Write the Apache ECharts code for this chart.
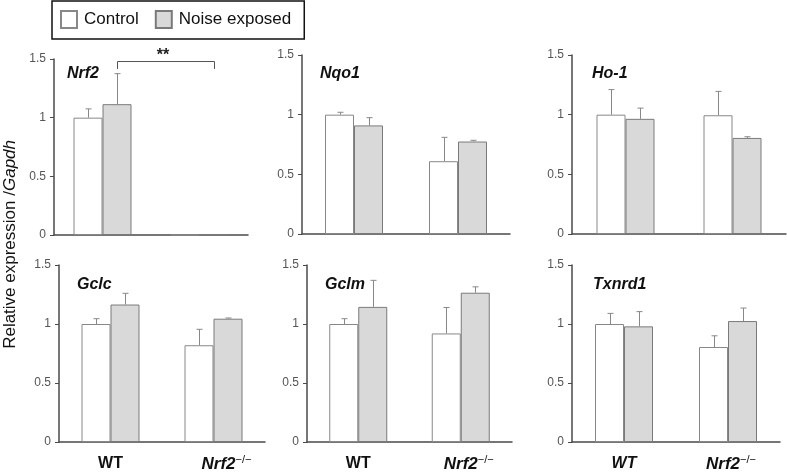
<!DOCTYPE html>
<html><head><meta charset="utf-8">
<script src="https://cdn.jsdelivr.net/npm/echarts@6/dist/echarts.min.js"></script>
<style>html,body{margin:0;padding:0;background:#fff}#c{width:787px;height:473px}</style>
</head><body><div id="c"></div>
<script>
// ---- data ----
const categories = ['WT', 'Nrf2'];
const genes = ['Nrf2', 'Nqo1', 'Ho-1', 'Gclc', 'Gclm', 'Txnrd1'];
const yTicks = [0, 0.5, 1, 1.5];

const nrf2Control = [1.00, 0.00], nrf2ControlErr = [0.075, 0.00];
const nrf2Noise = [1.115, 0.00], nrf2NoiseErr = [0.26, 0.00];
const nqo1Control = [1.00, 0.61], nqo1ControlErr = [0.02, 0.20];
const nqo1Noise = [0.91, 0.775], nqo1NoiseErr = [0.065, 0.01];
const ho1Control = [1.00, 0.995], ho1ControlErr = [0.21, 0.20];
const ho1Noise = [0.965, 0.805], ho1NoiseErr = [0.09, 0.01];
const gclcControl = [1.00, 0.82], gclcControlErr = [0.045, 0.135];
const gclcNoise = [1.165, 1.045], gclcNoiseErr = [0.095, 0.006];
const gclmControl = [1.00, 0.92], gclmControlErr = [0.045, 0.22];
const gclmNoise = [1.145, 1.265], gclmNoiseErr = [0.225, 0.05];
const txnrd1Control = [1.00, 0.805], txnrd1ControlErr = [0.09, 0.095];
const txnrd1Noise = [0.98, 1.025], txnrd1NoiseErr = [0.125, 0.11];

const significance = '**';
const bracketLevel = 1.483, bracketFoot = 1.415;

const controls = [nrf2Control, nqo1Control, ho1Control, gclcControl, gclmControl, txnrd1Control];
const controlErrs = [nrf2ControlErr, nqo1ControlErr, ho1ControlErr, gclcControlErr, gclmControlErr, txnrd1ControlErr];
const noises = [nrf2Noise, nqo1Noise, ho1Noise, gclcNoise, gclmNoise, txnrd1Noise];
const noiseErrs = [nrf2NoiseErr, nqo1NoiseErr, ho1NoiseErr, gclcNoiseErr, gclmNoiseErr, txnrd1NoiseErr];

// ---- layout ----
const grids = [
  {left: 54, top: 59, width: 194, height: 176},
  {left: 302, top: 55, width: 208, height: 179},
  {left: 572, top: 55, width: 214, height: 179},
  {left: 59, top: 265, width: 206, height: 181},
  {left: 307, top: 265, width: 205, height: 182},
  {left: 572, top: 265, width: 208, height: 180}
];
const titlePos = [[62, 61], [315, 61], [587, 61], [72, 272], [320, 272], [588, 272]];
const koLabelShift = [0, 0, 0, 26, 16, 6];
const BW = 29;
const AXIS = '#4a4a4a';

const chart = echarts.init(document.getElementById('c'), null, {renderer: 'canvas'});

const xAxes = [], yAxes = [], series = [], titles = [];
grids.forEach((g, i) => {
  const bottomRow = i >= 3;
  const wtItalic = i === 5;
  xAxes.push({
    type: 'category', gridIndex: i, data: categories,
    axisLine: {lineStyle: {color: AXIS, width: 1.5}},
    axisTick: {show: false},
    axisLabel: {
      show: bottomRow, margin: 12,
      formatter: v => v === 'WT' ? (wtItalic ? '{wi|WT}' : '{w|WT}') : '{n|Nrf2}{s|−/−}',
      rich: {
        w: {fontFamily: 'Liberation Sans', fontWeight: 'bold', fontSize: 16, color: '#111', lineHeight: 20},
        wi: {fontFamily: 'Liberation Sans', fontWeight: 'bold', fontStyle: 'italic', fontSize: 16, color: '#111', lineHeight: 20},
        n: {fontFamily: 'Liberation Sans', fontWeight: 'bold', fontStyle: 'italic', fontSize: 17, color: '#111', lineHeight: 20, padding: [0, 0, 0, koLabelShift[i]]},
        s: {fontFamily: 'Liberation Sans', fontSize: 11, color: '#111', verticalAlign: 'top', lineHeight: 20, padding: [0, 0, 8, 0]}
      }
    }
  });
  yAxes.push({
    type: 'value', gridIndex: i, min: 0, max: 1.5, interval: 0.5,
    axisLine: {show: true, lineStyle: {color: AXIS, width: 1.5}},
    axisTick: {show: true, length: 4, lineStyle: {color: AXIS}},
    splitLine: {show: false},
    axisLabel: {
      color: '#555', fontFamily: 'Liberation Sans', fontSize: 12, margin: 8,
      formatter: v => yTicks.includes(v) ? String(v) : ''
    }
  });
  series.push({
    name: 'Control', type: 'bar', xAxisIndex: i, yAxisIndex: i, data: controls[i],
    barWidth: BW, barGap: '0%',
    itemStyle: {color: '#ffffff', borderColor: '#888', borderWidth: 1}
  });
  series.push({
    name: 'Noise exposed', type: 'bar', xAxisIndex: i, yAxisIndex: i, data: noises[i],
    barWidth: BW, barGap: '0%',
    itemStyle: {color: '#d9d9d9', borderColor: '#7a7a7a', borderWidth: 1}
  });
  [[controls[i], controlErrs[i], -BW / 2], [noises[i], noiseErrs[i], BW / 2]].forEach(([m, e, off]) => {
    series.push({
      type: 'custom', xAxisIndex: i, yAxisIndex: i, silent: true, z: 5,
      data: m.map((v, k) => [k, v, v + e[k]]).filter(d => d[2] > d[1] || d[1] > 0),
      renderItem: (params, api) => {
        const b = api.coord([api.value(0), api.value(1)]);
        const t = api.coord([api.value(0), api.value(2)]);
        const x = Math.round(b[0] + off) + 0.5;
        const st = {stroke: '#888', lineWidth: 1};
        return {type: 'group', children: [
          {type: 'line', shape: {x1: x, y1: b[1], x2: x, y2: t[1]}, style: st},
          {type: 'line', shape: {x1: x - 3, y1: t[1], x2: x + 3, y2: t[1]}, style: st}
        ]};
      }
    });
  });
  titles.push({
    text: genes[i], left: titlePos[i][0], top: titlePos[i][1],
    textStyle: {fontFamily: 'Liberation Sans', fontWeight: 'bold', fontStyle: 'italic', fontSize: 16, color: '#111'}
  });
});

// significance bracket on Nrf2 panel, between WT noise and KO noise
series.push({
  type: 'custom', xAxisIndex: 0, yAxisIndex: 0, silent: true, z: 6,
  data: [[0, 1]],
  renderItem: (params, api) => {
    const a = api.coord([0, bracketLevel]);
    const b = api.coord([1, bracketLevel]);
    const f = api.coord([0, bracketFoot]);
    const x1 = Math.round(a[0] + BW / 2) + 0.5, x2 = Math.round(b[0] + BW / 2) + 0.5;
    const y = Math.round(a[1]) + 0.5;
    const st = {stroke: '#555', lineWidth: 1, fill: null};
    return {type: 'group', children: [
      {type: 'polyline', shape: {points: [[x1, f[1]], [x1, y], [x2, y], [x2, f[1]]]}, style: st},
      {type: 'text', style: {text: significance, x: (x1 + x2) / 2 - 3, y: y + 2, align: 'center', verticalAlign: 'bottom',
        fontFamily: 'Liberation Sans', fontSize: 16, fontWeight: 'bold', fill: '#222'}}
    ]};
  }
});

chart.setOption({
  animation: false,
  backgroundColor: '#fff',
  title: titles,
  grid: grids,
  xAxis: xAxes,
  yAxis: yAxes,
  legend: {
    data: ['Control', 'Noise exposed'],
    left: 52, top: 1, orient: 'horizontal',
    borderColor: '#111', borderWidth: 1.5, borderRadius: 0,
    padding: [9, 13, 10, 8], itemGap: 16, itemWidth: 16, itemHeight: 17,
    icon: 'rect',
    textStyle: {fontFamily: 'Liberation Sans', fontSize: 17, color: '#111', padding: [0, 0, 0, 2]}
  },
  graphic: [{
    type: 'text', left: 2, top: 140, rotation: Math.PI / 2,
    style: {
      text: '{r|Relative expression /}{g|Gapdh}',
      rich: {
        r: {fontFamily: 'Liberation Sans', fontSize: 17, fill: '#111'},
        g: {fontFamily: 'Liberation Sans', fontSize: 17, fontStyle: 'italic', fill: '#111'}
      }
    }
  }],
  series: series
});
</script></body></html>
